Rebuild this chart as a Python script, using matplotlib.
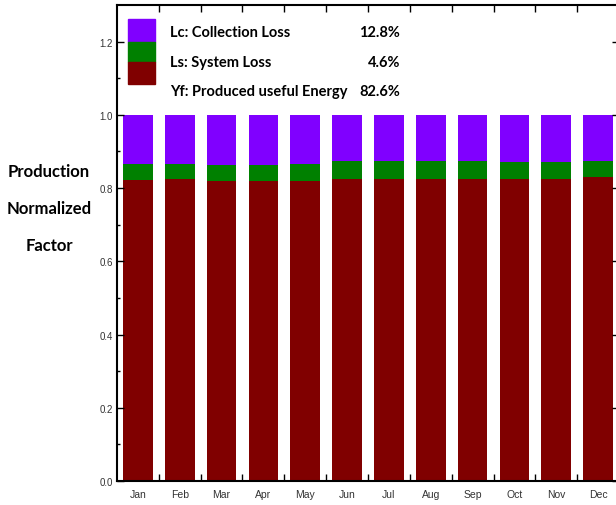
import matplotlib
matplotlib.use('Agg')
import matplotlib.pyplot as plt
import numpy as np

# valores (fracao da energia)
meses = ['Jan', 'Feb', 'Mar', 'Apr', 'May', 'Jun', 'Jul', 'Aug', 'Sep', 'Oct', 'Nov', 'Dec']
Yf = [0.823, 0.826, 0.818, 0.818, 0.818, 0.826, 0.826, 0.826, 0.826, 0.826, 0.826, 0.829]
Ls = [0.044, 0.041, 0.045, 0.045, 0.049, 0.048, 0.048, 0.048, 0.048, 0.045, 0.045, 0.045]
Lc = [0.133, 0.133, 0.137, 0.137, 0.133, 0.126, 0.126, 0.126, 0.126, 0.129, 0.129, 0.126]

legenda = ['Lc: Collection Loss', 'Ls: System Loss', 'Yf: Produced useful Energy']
percentuais = ['12.8%', '4.6%', '82.6%']
cores = ['#8000ff', '#008000', '#800000']

fig = plt.figure(figsize=(6.16, 5.06), dpi=100)
ax = fig.add_axes([117/616, 1-482/506, 502/616, 476/506])

x = np.arange(len(meses))
w = 0.71
ax.bar(x, Yf, w, color=cores[2], linewidth=0)
ax.bar(x, Ls, w, bottom=Yf, color=cores[1], linewidth=0)
ax.bar(x, Lc, w, bottom=np.array(Yf)+np.array(Ls), color=cores[0], linewidth=0)

ax.set_xlim(-0.5, 11.5)
ax.set_ylim(0, 1.3)

fonte_tick = 'Liberation Sans'
ax.set_yticks(np.arange(0, 1.21, 0.2))
ax.set_yticklabels(['%.1f' % v for v in np.arange(0, 1.21, 0.2)], fontsize=7,
                   family=fonte_tick, color='#333333')
ax.set_yticks(np.arange(0.1, 1.3, 0.2), minor=True)
ax.tick_params(axis='y', which='major', direction='in', length=5, width=1, right=True, pad=3)
ax.tick_params(axis='y', which='minor', direction='in', length=2, width=1, right=True)

ax.set_xticks(np.arange(0.5, 11.5, 1))
ax.set_xticklabels([])
ax.set_xticks(x, minor=True)
ax.set_xticklabels(meses, minor=True, fontsize=7.5, family=fonte_tick, color='#333333')
ax.tick_params(axis='x', which='major', direction='in', length=5, width=1, top=True)
ax.tick_params(axis='x', which='minor', length=0, pad=6)

for s in ax.spines.values():
    s.set_linewidth(1.5)

# legenda montada a mao
fonte = 'Lato'
ys_box = [(20, 43), (43, 63), (63, 85)]
ys_txt = [33, 63, 92]
for i in range(3):
    y0, y1 = ys_box[i]
    fig.patches.append(plt.Rectangle((128/616, 1-y1/506), 27/616, (y1-y0)/506,
                                     transform=fig.transFigure, color=cores[i], figure=fig))
    fig.text(170/616, 1-ys_txt[i]/506, legenda[i], fontsize=10.5, fontweight='bold',
             family=fonte, va='center', ha='left')
    fig.text(400/616, 1-ys_txt[i]/506, percentuais[i], fontsize=10.5, fontweight='bold',
             family=fonte, va='center', ha='right')

fig.text(49/616, 1-209/506, 'Production\nNormalized\nFactor', fontsize=12,
         fontweight='bold', family=fonte, ha='center', va='center', linespacing=2.6)

fig.savefig('out.png', dpi=100)
